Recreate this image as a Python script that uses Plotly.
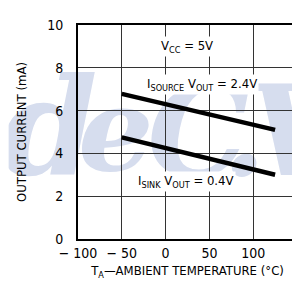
import base64
import plotly.graph_objects as go

# Data
temp_c = [-50, 125]
i_source_ma = [6.78, 5.10]
i_sink_ma = [4.75, 3.00]

x_tickvals = [-100, -50, 0, 50, 100, 150]
x_ticktext = ["\u2212 100", "\u2212 50", "0", "50", "100", "150"]
y_tickvals = [0, 2, 4, 6, 8, 10]
y_ticktext = ["0", "2", "4", "6", "8", "10"]

FONT = "DejaVu Sans Condensed, Liberation Sans Narrow, Liberation Sans, sans-serif"

# faint background watermark (as in the scanned datasheet)
svg = (
    '<svg xmlns="http://www.w3.org/2000/svg" width="300" height="285">'
    '<g fill="#d6ddee" font-family="DejaVu Serif" font-style="italic" font-weight="bold">'
    '<text x="-8" y="165" font-size="140">d</text>'
    '<text x="70" y="160" font-size="120">e</text>'
    '<text x="140" y="165" font-size="130">C</text>'
    '<text x="215" y="165" font-size="130">.</text>'
    '<text x="240" y="165" font-size="130">V</text>'
    '</g></svg>'
)
svg_uri = "data:image/svg+xml;base64," + base64.b64encode(svg.encode()).decode()

fig = go.Figure()
fig.add_trace(go.Scatter(x=temp_c, y=i_source_ma, mode="lines",
                         line=dict(color="black", width=4.5), showlegend=False))
fig.add_trace(go.Scatter(x=temp_c, y=i_sink_ma, mode="lines",
                         line=dict(color="black", width=4.5), showlegend=False))

ann_font = dict(family=FONT, size=13, color="black")
fig.add_annotation(x=24, y=9.0, text="V<sub>CC</sub> = 5V", showarrow=False,
                   font=ann_font, bgcolor="white")
fig.add_annotation(x=42, y=7.2, text="I<sub>SOURCE</sub> V<sub>OUT</sub> = 2.4V",
                   showarrow=False, font=ann_font, bgcolor="white")
fig.add_annotation(x=23, y=2.67, text="I<sub>SINK</sub> V<sub>OUT</sub> = 0.4V",
                   showarrow=False, font=ann_font, bgcolor="white")

L, R, T, B = 70, 9, 10, 54
W, H = 300, 285
pw, ph = W - L - R, H - T - B
fig.add_layout_image(dict(source=svg_uri, xref="paper", yref="paper",
                          x=-L / pw, y=1 + T / ph, sizex=W / pw, sizey=H / ph,
                          sizing="stretch", xanchor="left", yanchor="top",
                          layer="below"))

fig.update_layout(
    width=W, height=H,
    margin=dict(l=L, r=R, t=T, b=B),
    paper_bgcolor="white", plot_bgcolor="rgba(0,0,0,0)",
    font=dict(family=FONT, color="black"),
    xaxis=dict(range=[-100, 150], tickvals=x_tickvals, ticktext=x_ticktext,
               showgrid=True, gridcolor="#333", gridwidth=1, zeroline=False,
               showline=True, linecolor="black", linewidth=2, mirror=True,
               ticks="", ticklabelstandoff=0,
               tickfont=dict(family=FONT, size=14),
               title=dict(text="T<sub>A</sub>\u2014AMBIENT TEMPERATURE (\u00b0C)",
                          font=dict(family=FONT, size=13), standoff=6)),
    yaxis=dict(range=[0, 10], tickvals=y_tickvals, ticktext=y_ticktext,
               showgrid=True, gridcolor="#333", gridwidth=1, zeroline=False,
               showline=True, linecolor="black", linewidth=2, mirror=True,
               ticks="", ticklabelstandoff=10,
               tickfont=dict(family=FONT, size=14),
               title=dict(text="OUTPUT CURRENT (mA)",
                          font=dict(family=FONT, size=13), standoff=18)),
)

fig.write_html("out.html")
